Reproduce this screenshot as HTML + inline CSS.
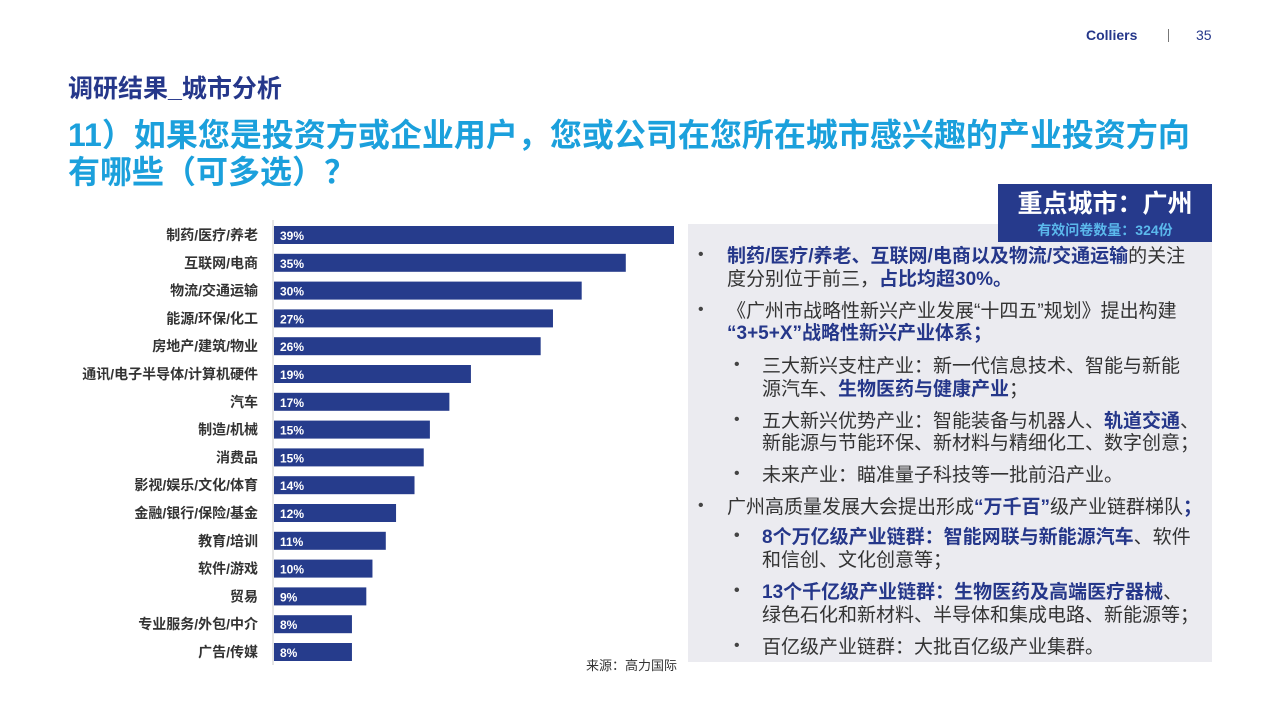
<!DOCTYPE html>
<html><head><meta charset="utf-8"><style>
body{margin:0;width:1280px;height:720px;background:#fff;position:relative;overflow:hidden;font-family:"Liberation Sans","Noto Sans CJK SC",sans-serif}
.abs{position:absolute}
.t{position:absolute;font-size:19px;color:#333;white-space:nowrap;line-height:22px}
.b{font-weight:bold;color:#25378a}
.dot{position:absolute;font-size:16px;color:#444}
</style></head><body>
<div class="abs" style="left:1086px;top:27px;font-size:14px;font-weight:bold;color:#25378a">Colliers</div>
<div class="abs" style="left:1168px;top:29px;width:1px;height:13px;background:#777"></div>
<div class="abs" style="left:1196px;top:27px;font-size:14px;color:#25378a">35</div>
<div class="abs" style="left:68px;top:69px;font-size:25px;font-weight:bold;color:#25378a">调研结果_城市分析</div>
<div class="abs" style="left:68px;top:117px;font-size:32px;font-weight:bold;color:#1ba0dc;line-height:37px;white-space:nowrap">11）如果您是投资方或企业用户，您或公司在您所在城市感兴趣的产业投资方向<br>有哪些（可多选）？</div>

<div class="abs" style="left:688px;top:224px;width:524px;height:438px;background:#ebebf0"></div>
<div class="abs" style="left:998px;top:184px;width:214px;height:58px;background:#263a8c;color:#fff;text-align:center">
<div style="font-size:25px;font-weight:bold;line-height:36px;margin-top:2px">重点城市：广州</div>
<div style="font-size:14px;font-weight:bold;color:#5bb8ec;line-height:16px">有效问卷数量：324份</div></div>

<svg class="abs" style="left:0;top:0" width="1280" height="720" id="chart"></svg>
<div class="abs" style="left:586px;top:655px;font-size:13px;color:#333">来源：高力国际</div>

<div class="dot" style="left:698px;top:246px">•</div>
<div class="t" style="left:727px;top:246px"><span class="b">制药/医疗/养老、互联网/电商以及物流/交通运输</span>的关注</div>
<div class="t" style="left:727px;top:269px">度分别位于前三，<span class="b">占比均超30%。</span></div>
<div class="dot" style="left:698px;top:301px">•</div>
<div class="t" style="left:727px;top:301px">《广州市战略性新兴产业发展“十四五”规划》提出构建</div>
<div class="t" style="left:727px;top:323px"><span class="b">“3+5+X”战略性新兴产业体系；</span></div>
<div class="dot" style="left:734px;top:356px">•</div>
<div class="t" style="left:762px;top:356px">三大新兴支柱产业：新一代信息技术、智能与新能</div>
<div class="t" style="left:762px;top:379px">源汽车、<span class="b">生物医药与健康产业</span>；</div>
<div class="dot" style="left:734px;top:411px">•</div>
<div class="t" style="left:762px;top:411px">五大新兴优势产业：智能装备与机器人、<span class="b">轨道交通</span>、</div>
<div class="t" style="left:762px;top:433px">新能源与节能环保、新材料与精细化工、数字创意；</div>
<div class="dot" style="left:734px;top:465px">•</div>
<div class="t" style="left:762px;top:465px">未来产业：瞄准量子科技等一批前沿产业。</div>
<div class="dot" style="left:698px;top:497px">•</div>
<div class="t" style="left:727px;top:497px">广州高质量发展大会提出形成<span class="b">“万千百”</span>级产业链群梯队<span class="b">；</span></div>
<div class="dot b" style="left:734px;top:527px">•</div>
<div class="t" style="left:762px;top:527px"><span class="b">8个万亿级产业链群：智能网联与新能源汽车</span>、软件</div>
<div class="t" style="left:762px;top:550px">和信创、文化创意等；</div>
<div class="dot b" style="left:734px;top:582px">•</div>
<div class="t" style="left:762px;top:582px"><span class="b">13个千亿级产业链群：生物医药及高端医疗器械</span>、</div>
<div class="t" style="left:762px;top:605px">绿色石化和新材料、半导体和集成电路、新能源等；</div>
<div class="dot" style="left:734px;top:637px">•</div>
<div class="t" style="left:762px;top:637px">百亿级产业链群：大批百亿级产业集群。</div>

<script>
const categories=["制药/医疗/养老","互联网/电商","物流/交通运输","能源/环保/化工","房地产/建筑/物业","通讯/电子半导体/计算机硬件","汽车","制造/机械","消费品","影视/娱乐/文化/体育","金融/银行/保险/基金","教育/培训","软件/游戏","贸易","专业服务/外包/中介","广告/传媒"];
const values=[39,34.3,30,27.2,26,19.2,17.1,15.2,14.6,13.7,11.9,10.9,9.6,9.0,7.6,7.6];
const labels=["39%","35%","30%","27%","26%","19%","17%","15%","15%","14%","12%","11%","10%","9%","8%","8%"];
const svg=document.getElementById('chart');
const NS='http://www.w3.org/2000/svg';
const x0=274,scale=400/39,y0=235,pitch=27.8,bh=18;
const xs=v=>x0+v*scale, ys=i=>y0+i*pitch;
const ax=document.createElementNS(NS,'line');
ax.setAttribute('x1',273);ax.setAttribute('x2',273);ax.setAttribute('y1',220);ax.setAttribute('y2',665);
ax.setAttribute('stroke','#ccc');ax.setAttribute('stroke-width','1');


svg.appendChild(ax);
categories.forEach((c,i)=>{
  const cy=ys(i);
  const r=document.createElementNS(NS,'rect');
  r.setAttribute('x',x0);r.setAttribute('y',cy-bh/2);r.setAttribute('width',xs(values[i])-x0);r.setAttribute('height',bh);r.setAttribute('fill','#263c8c');
  
  
  svg.appendChild(r);
  const v=document.createElementNS(NS,'text');
  v.setAttribute('x',x0+6);v.setAttribute('y',cy+5);v.setAttribute('fill','#fff');v.setAttribute('font-size','12');v.setAttribute('font-weight','bold');
  v.textContent=labels[i];
  
  
  svg.appendChild(v);
  const t=document.createElementNS(NS,'text');
  t.setAttribute('x',258);t.setAttribute('y',cy+5);t.setAttribute('text-anchor','end');t.setAttribute('fill','#333');t.setAttribute('font-size','14');t.setAttribute('font-weight','bold');
  t.textContent=c;
  
  
  svg.appendChild(t);
});
</script>
</body></html>
